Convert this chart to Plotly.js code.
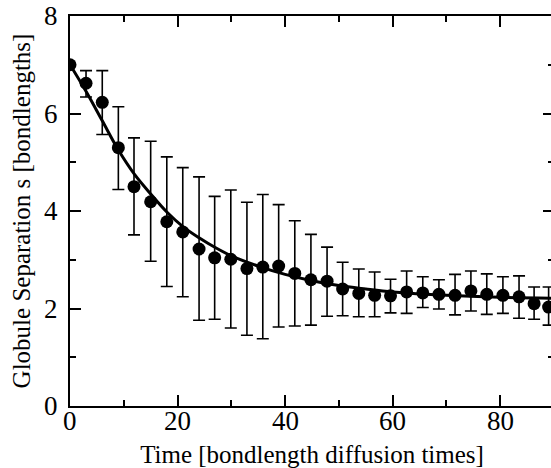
<!DOCTYPE html>
<html>
<head>
<meta charset="utf-8">
<script src="https://cdn.plot.ly/plotly-3.0.1.min.js"></script>
<style>
html, body { margin: 0; padding: 0; overflow: hidden; background: #fff; }
#chart { width: 555px; height: 468px; }
</style>
</head>
<body>
<div id="chart"></div>
<script>
// Measured data points (time in bondlength diffusion times)
const times = [0, 2.98, 6.0, 8.99, 11.9, 15.0, 18.0, 20.97, 24.0, 26.9, 29.9, 32.9, 35.85, 38.8, 41.8, 44.8, 47.8, 50.7, 53.7, 56.65, 59.6, 62.6, 65.6, 68.6, 71.6, 74.55, 77.5, 80.5, 83.5, 86.3, 89.0];
const separation = [7.0, 6.62, 6.23, 5.30, 4.50, 4.19, 3.78, 3.57, 3.22, 3.04, 3.01, 2.82, 2.85, 2.87, 2.72, 2.59, 2.56, 2.40, 2.31, 2.27, 2.26, 2.34, 2.32, 2.29, 2.27, 2.36, 2.29, 2.27, 2.24, 2.10, 2.03];
const barTop = [7.0, 6.88, 6.88, 6.14, 5.50, 5.43, 5.11, 4.89, 4.70, 4.30, 4.43, 4.18, 4.34, 4.13, 3.80, 3.52, 3.26, 2.95, 2.81, 2.75, 2.60, 2.77, 2.65, 2.59, 2.70, 2.77, 2.71, 2.65, 2.67, 2.44, 2.44];
const barBottom = [7.0, 6.34, 5.57, 4.44, 3.51, 2.97, 2.45, 2.24, 1.76, 1.78, 1.60, 1.45, 1.38, 1.62, 1.64, 1.66, 1.84, 1.85, 1.83, 1.83, 1.91, 1.90, 2.02, 1.99, 1.87, 1.95, 1.88, 1.90, 1.80, 1.78, 1.66];

// Fit curve
const fitTimes = [0, 3, 6, 9, 12, 15, 18, 21, 24, 27, 30, 35, 40, 45, 50, 55, 60, 70, 80, 90];
const fitValues = [7.0, 6.45, 5.85, 5.25, 4.75, 4.35, 3.98, 3.68, 3.45, 3.25, 3.08, 2.87, 2.70, 2.57, 2.47, 2.40, 2.34, 2.27, 2.23, 2.21];

// Tick labels
const xTickVals = [0, 20, 40, 60, 80];
const xTickText = ['0', '20', '40', '60', '80'];
const yTickVals = [0, 2, 4, 6, 8];
const yTickText = ['0', '2', '4', '6', '8'];

const errPlus = barTop.map((t, i) => t - separation[i]);
const errMinus = barBottom.map((b, i) => separation[i] - b);

const serif = "'Liberation Serif', 'Times New Roman', Times, serif";
const tickFont = { family: serif, size: 27, color: '#000' };

const traces = [
  {
    x: fitTimes, y: fitValues, type: 'scatter', mode: 'lines',
    line: { color: '#000', width: 3, shape: 'spline' },
    hoverinfo: 'skip', showlegend: false
  },
  {
    x: times, y: separation, type: 'scatter', mode: 'markers',
    marker: { color: '#000', size: 13 },
    error_y: { type: 'data', symmetric: false, array: errPlus, arrayminus: errMinus,
               color: '#000', thickness: 1.6, width: 6 },
    showlegend: false
  }
];

const annotations = [];
xTickVals.forEach((v, i) => annotations.push({
  x: v, xref: 'x', y: 0, yref: 'paper', xanchor: 'center', yanchor: 'middle',
  yshift: -15, text: xTickText[i], showarrow: false, font: tickFont
}));
yTickVals.forEach((v, i) => annotations.push({
  x: 0, xref: 'paper', y: v, yref: 'y', xanchor: 'right', yanchor: 'middle',
  xshift: -10, text: yTickText[i], showarrow: false, font: tickFont
}));

const layout = {
  width: 555, height: 468,
  margin: { l: 70, r: 1, t: 16, b: 62 },
  paper_bgcolor: '#fff', plot_bgcolor: '#fff',
  font: { family: serif, color: '#000', size: 25 },
  annotations: annotations,
  xaxis: {
    showline: true, linecolor: '#000', linewidth: 2,
    mirror: 'ticks', ticks: 'inside', tickcolor: '#000', tickwidth: 1.5, ticklen: 11,
    showgrid: false, zeroline: false, showticklabels: false, automargin: false,
    range: [0, 90], tick0: 0, dtick: 20,
    minor: { dtick: 10, ticks: 'inside', ticklen: 6, tickcolor: '#000', tickwidth: 1.5, showgrid: false },
    title: { text: 'Time [bondlength diffusion times]', font: { family: serif, size: 25, color: '#000' }, standoff: 38 }
  },
  yaxis: {
    showline: true, linecolor: '#000', linewidth: 2,
    mirror: 'ticks', ticks: 'inside', tickcolor: '#000', tickwidth: 1.5, ticklen: 11,
    showgrid: false, zeroline: false, showticklabels: false, automargin: false,
    range: [0, 8], tick0: 0, dtick: 2,
    minor: { dtick: 1, ticks: 'inside', ticklen: 6, tickcolor: '#000', tickwidth: 1.5, showgrid: false },
    title: { text: 'Globule Separation s [bondlengths]', font: { family: serif, size: 25, color: '#000' }, standoff: 30 }
  }
};

Plotly.newPlot('chart', traces, layout, { displayModeBar: false });
</script>
</body>
</html>
